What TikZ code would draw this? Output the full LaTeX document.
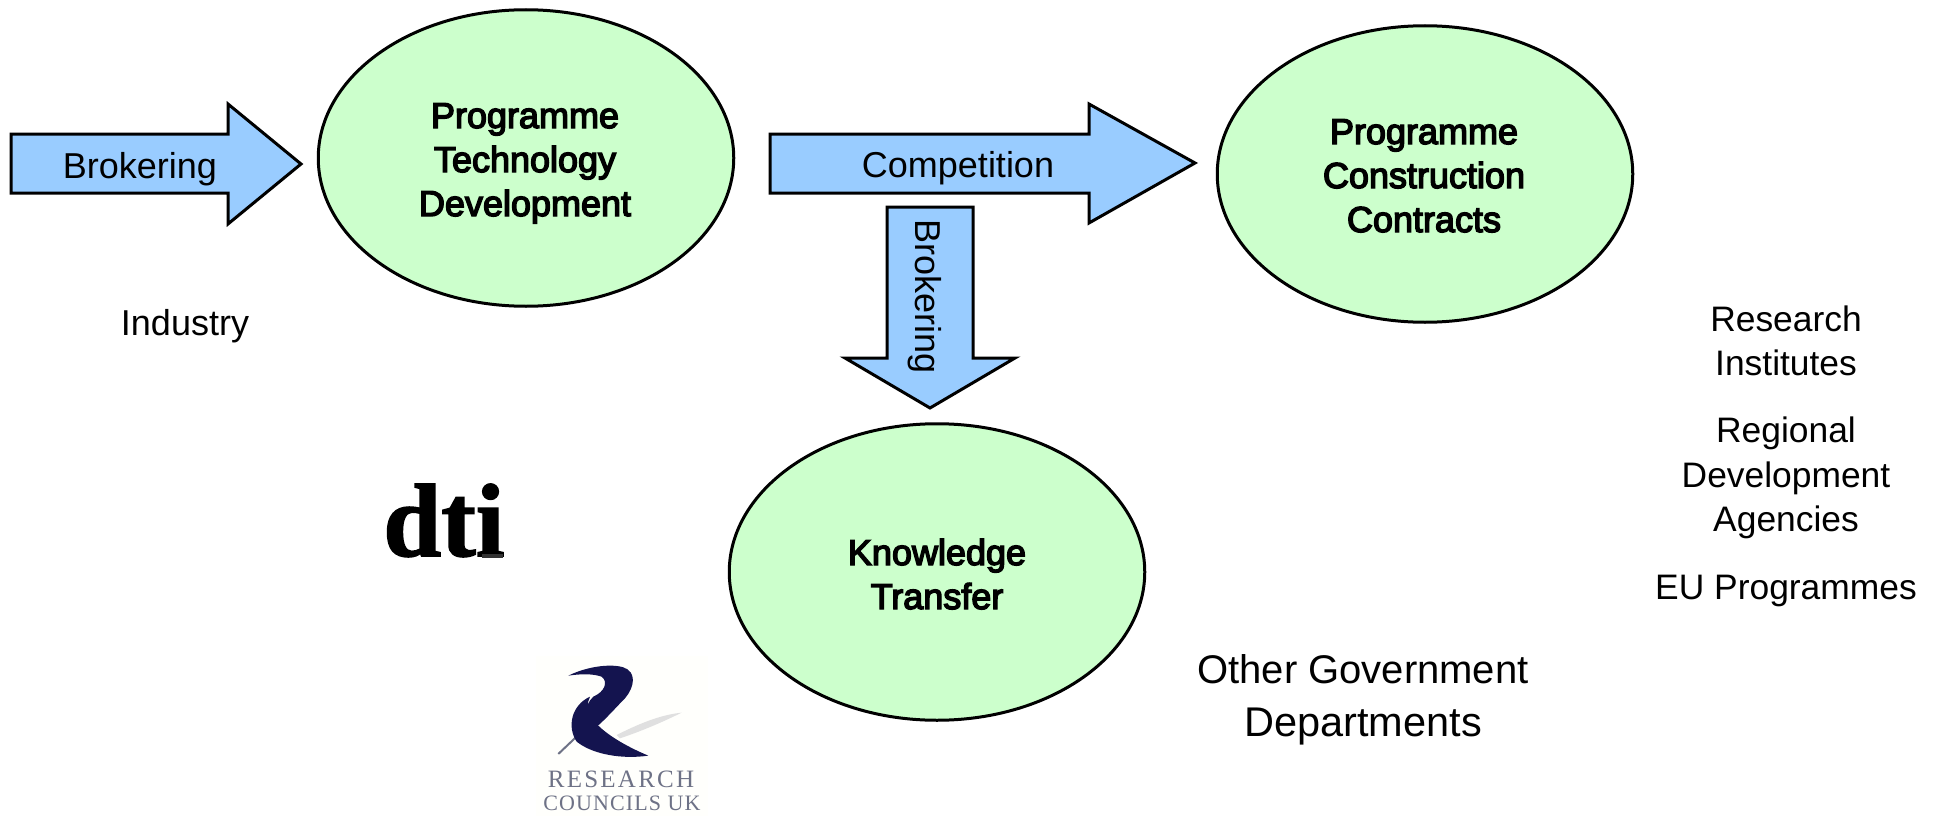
\documentclass[tikz,border=0pt]{standalone}
\usepackage{fontspec}
\setmainfont{Liberation Sans}
\newfontfamily\fakebold[FakeBold=4]{Liberation Sans}
\newfontfamily\logoserif[LetterSpace=9]{Liberation Serif}
\newfontfamily\logoserifc[LetterSpace=5]{Liberation Serif}
\newfontfamily\logoserifb[FakeBold=1.5]{Liberation Serif Bold}
\usetikzlibrary{shapes.geometric}
\definecolor{arrowblue}{HTML}{99CCFF}
\definecolor{ovalgreen}{HTML}{CCFFCC}
\definecolor{logonavy}{HTML}{14144F}
\definecolor{logogrey}{HTML}{6E7286}
\tikzset{
  oval/.style={ellipse,draw=black,line width=3pt,fill=ovalgreen,inner sep=0pt,minimum width=415.5pt,minimum height=296.5pt},
  blockarrow/.style={draw=black,line width=3pt,fill=arrowblue,miter limit=10},
  lbl/.style={anchor=base,inner sep=0pt,font=\fontsize{36}{36}\selectfont},
  sidelbl/.style={anchor=base,inner sep=0pt,font=\fontsize{35.4}{36}\selectfont},
  boldlbl/.style={anchor=base,inner sep=0pt,font=\fontsize{36}{36}\selectfont\fakebold},
  biglbl/.style={anchor=base,inner sep=0pt,font=\fontsize{40}{40}\selectfont},
}
\begin{document}
\begin{tikzpicture}[x=1pt,y=-1pt]
\path[use as bounding box] (0,0) rectangle (1938,816);
% ovals
\node[oval] (ptd) at (526,158) {};
\node[oval] (pcc) at (1425,174) {};
\node[oval] (kt) at (937,572) {};
% block arrows
\draw[blockarrow] (11,134) -- (228,134) -- (228,104) -- (301,164) -- (228,224) -- (228,193) -- (11,193) -- cycle;
\draw[blockarrow] (770,134) -- (1089,134) -- (1089,104) -- (1195,163) -- (1089,223) -- (1089,193) -- (770,193) -- cycle;
\draw[blockarrow] (887,207) -- (973,207) -- (973,358) -- (1015,358) -- (930,408) -- (845,358) -- (887,358) -- cycle;
% arrow labels
\node[lbl] (a1) at (140,178) {Brokering};
\node[lbl] (a2) at (958,177) {Competition};
\node[lbl,rotate=-90,anchor=center] (a3) at (925,297) {Brokering};
% oval labels
\node[boldlbl] (t1) at (525,128) {Programme};
\node[boldlbl] (t2) at (525,172) {Technology};
\node[boldlbl] (t3) at (525,216) {Development};
\node[boldlbl] (c1) at (1424,144) {Programme};
\node[boldlbl] (c2) at (1424,188) {Construction};
\node[boldlbl] (c3) at (1424,232) {Contracts};
\node[boldlbl] (k1) at (937,565) {Knowledge};
\node[boldlbl] (k2) at (937,609) {Transfer};
% free labels
\node[lbl] (ind) at (185,335) {Industry};
\node[sidelbl] (r1) at (1786,331) {Research};
\node[sidelbl] (r2) at (1786,375) {Institutes};
\node[sidelbl] (r3) at (1786,442) {Regional};
\node[sidelbl] (r4) at (1786,487) {Development};
\node[sidelbl] (r5) at (1786,531) {Agencies};
\node[sidelbl] (r6) at (1786,599) {EU Programmes};
\node[biglbl] (o1) at (1363,683) {Other Government};
\node[biglbl,font=\fontsize{41.5}{41}\selectfont] (o2) at (1363,736) {Departments};
% dti logo
\node[anchor=base,inner sep=0pt,font=\fontsize{104}{104}\selectfont\logoserifb] (dti) at (444,556) {dti};
\fill[black!80] (482,554) rectangle (503,558);
% RCUK logo
\fill[yellow!1!white] (536,656) rectangle (708,816);
\begin{scope}[shift={(360,470)},x=0.3333pt,y=-0.3333pt]
  \fill[black!12] (770,795) .. controls (840,760) and (900,735) .. (965,728) .. controls (900,760) and (840,785) .. (780,805) -- cycle;
  \draw[logogrey,line width=2pt] (595,852) -- (655,795);
  \fill[logonavy] (625,617) .. controls (680,590) and (750,580) .. (790,592)
     .. controls (830,605) and (825,650) .. (795,685)
     .. controls (770,710) and (740,745) .. (705,775)
     .. controls (670,745) and (670,710) .. (700,680)
     .. controls (735,665) and (745,635) .. (725,620)
     .. controls (695,610) and (660,612) .. cycle;
  \fill[logonavy] (690,680) .. controls (635,705) and (620,770) .. (650,815)
     .. controls (700,855) and (790,868) .. (865,857)
     .. controls (800,830) and (730,790) .. (700,750)
     .. controls (680,725) and (680,700) .. cycle;
\end{scope}
\node[anchor=base,inner sep=0pt,text=logogrey,font=\fontsize{25}{25}\selectfont\logoserif] (rc1) at (621,787) {RESEARCH};
\node[anchor=base,inner sep=0pt,text=logogrey,font=\fontsize{22}{22}\selectfont\logoserifc] (rc2) at (622,810) {COUNCILS UK};
\end{tikzpicture}
\end{document}
